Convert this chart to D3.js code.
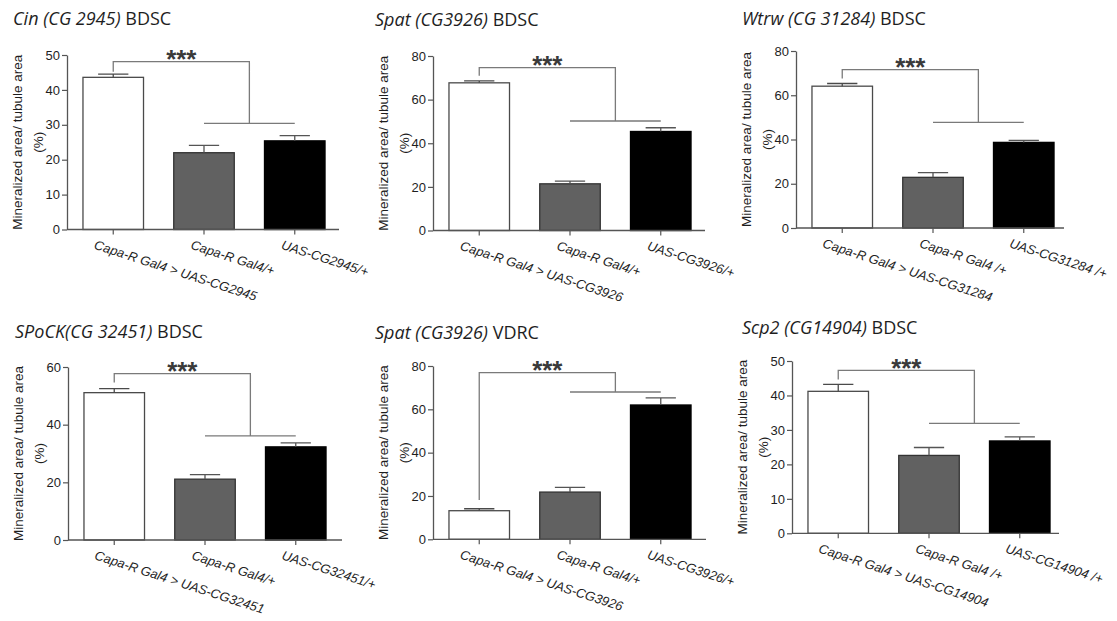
<!DOCTYPE html>
<html>
<head>
<meta charset="utf-8">
<script src="https://cdn.jsdelivr.net/npm/d3@7"></script>
<style>
  body { margin: 0; background: #fff; }
  svg { display: block; }
</style>
</head>
<body>
<svg id="fig" width="1117" height="621"></svg>
<script>
// Mineralized area / tubule area (%) after Capa-R Gal4 driven knock-down, mean ± SEM

const titleGene  = ["Cin (CG 2945)", "Spat (CG3926)", "Wtrw (CG 31284)", "SPoCK(CG 32451)", "Spat (CG3926)", "Scp2 (CG14904)"];
const titleStock = ["BDSC", "BDSC", "BDSC", "BDSC", "VDRC", "BDSC"];

const genotypes = [
  ["Capa-R Gal4 > UAS-CG2945",  "Capa-R Gal4/+",  "UAS-CG2945/+"],
  ["Capa-R Gal4 > UAS-CG3926",  "Capa-R Gal4/+",  "UAS-CG3926/+"],
  ["Capa-R Gal4 > UAS-CG31284", "Capa-R Gal4 /+", "UAS-CG31284 /+"],
  ["Capa-R Gal4 > UAS-CG32451", "Capa-R Gal4/+",  "UAS-CG32451/+"],
  ["Capa-R Gal4 > UAS-CG3926",  "Capa-R Gal4/+",  "UAS-CG3926/+"],
  ["Capa-R Gal4 > UAS-CG14904", "Capa-R Gal4 /+", "UAS-CG14904 /+"]
];

const means = [
  [43.6, 22.0, 25.4],
  [67.7, 21.4, 45.4],
  [64.1, 22.9, 38.7],
  [51.1, 21.1, 32.3],
  [13.2, 21.8, 62.0],
  [41.2, 22.6, 26.8]
];
const sems = [
  [0.9, 2.1, 1.5],
  [0.9, 1.2, 1.7],
  [1.2, 2.1, 0.9],
  [1.4, 1.6, 1.4],
  [0.9, 2.2, 3.3],
  [2.0, 2.3, 1.2]
];

const yMax  = [50, 80, 80, 60, 80, 50];
const yStep = [10, 20, 20, 20, 20, 10];

// significance brackets (data units): upper bar, end of the left drop, lower bar
const bracketTop  = [48.1, 74.7, 71.6, 57.7, 76.9, 47.3];
const bracketDrop = [45.2, 71.0, 67.6, 54.6, 18.1, 44.6];
const bracketLow  = [30.4, 50.2, 47.7, 36.1, 68.0, 31.9];
const sigLabel = "***";

const yLabel = "Mineralized area/ tubule area";
const yUnit = "(%)";

// panel frames on the page
const frames = [
  { x: 67,  top: 55,  base: 229.5, len: 272, tx: 13,  ty: 25 },
  { x: 433, top: 56,  base: 230.5, len: 272, tx: 375, ty: 26 },
  { x: 796, top: 51,  base: 228,   len: 268, tx: 742, ty: 25 },
  { x: 68,  top: 367, base: 540,   len: 274, tx: 15,  ty: 338 },
  { x: 433, top: 366, base: 539.3, len: 273, tx: 375, ty: 339 },
  { x: 792, top: 361, base: 533.3, len: 267, tx: 742, ty: 334 }
];

const barFill   = ["#ffffff", "#616161", "#000000"];
const barStroke = ["#4a4a4a", "#333333", "#000000"];
const axisColor = "#555555";
const bracketColor = "#7a7a7a";
const textColor = "#1e1e1e";
const sansFont = "'Liberation Sans', Arial, sans-serif";

const svg = d3.select("#fig");

frames.forEach((F, i) => {
  const g = svg.append("g");

  const y = d3.scaleLinear().domain([0, yMax[i]]).range([F.base, F.top]);
  const x = d3.scaleBand()
    .domain(genotypes[i])
    .range([F.x, F.x + 274])
    .paddingInner(0.333)
    .paddingOuter(0.176);
  const cx = d => x(d) + x.bandwidth() / 2;

  // title: gene name in italics, stock centre upright
  const title = g.append("text")
    .attr("x", F.tx).attr("y", F.ty)
    .style("font-family", "'Open Sans', sans-serif")
    .style("font-size", "18px")
    .style("fill", textColor);
  title.append("tspan").style("font-style", "italic").text(titleGene[i]);
  title.append("tspan").text(" " + titleStock[i]);

  // bars
  const rows = genotypes[i].map((k, j) => ({ k, m: means[i][j], s: sems[i][j], j }));
  g.selectAll("rect.bar").data(rows).enter().append("rect")
    .attr("class", "bar")
    .attr("x", d => x(d.k))
    .attr("width", x.bandwidth())
    .attr("y", d => y(d.m))
    .attr("height", d => y(0) - y(d.m))
    .attr("fill", d => barFill[d.j])
    .attr("stroke", d => barStroke[d.j])
    .attr("stroke-width", 1.3);

  // upper SEM whiskers
  const capW = x.bandwidth() / 2;
  g.selectAll("path.err").data(rows).enter().append("path")
    .attr("class", "err")
    .attr("d", d => `M${cx(d.k)},${y(d.m)}V${y(d.m + d.s)}M${cx(d.k) - capW / 2},${y(d.m + d.s)}H${cx(d.k) + capW / 2}`)
    .attr("fill", "none")
    .attr("stroke", (d) => d.j === 0 ? "#4a4a4a" : "#555")
    .attr("stroke-width", 1.3);

  // y axis
  const yAxis = d3.axisLeft(y)
    .tickValues(d3.range(0, yMax[i] + 1e-6, yStep[i]))
    .tickSize(5).tickSizeOuter(0).tickPadding(2);
  const ya = g.append("g").attr("transform", `translate(${F.x},0)`).call(yAxis);
  ya.select(".domain").attr("stroke", axisColor).attr("stroke-width", 1.3);
  ya.selectAll(".tick line").attr("stroke", axisColor).attr("stroke-width", 1.2);
  ya.selectAll(".tick text")
    .style("font-family", sansFont).style("font-size", "13px").style("fill", textColor);

  // x axis
  const xAxis = d3.axisBottom(x).tickSize(5).tickSizeOuter(0);
  const xa = g.append("g").attr("transform", `translate(0,${y(0)})`).call(xAxis);
  xa.select(".domain").remove();
  xa.append("line")
    .attr("x1", F.x).attr("x2", F.x + F.len)
    .attr("stroke", axisColor).attr("stroke-width", 1.3);
  xa.selectAll(".tick line").attr("stroke", axisColor).attr("stroke-width", 1.2);
  xa.selectAll(".tick text")
    .attr("x", 0).attr("y", 0).attr("dy", null)
    .style("text-anchor", "start")
    .style("font-family", sansFont).style("font-style", "italic")
    .style("font-size", "13px").style("fill", textColor)
    .attr("transform", function () {
      // longer labels start a little further left of their tick
      const len = this.getComputedTextLength();
      return `translate(${-8 - 0.07 * len},19) rotate(18)`;
    });

  // y axis title, two lines
  const midY = (F.top + F.base) / 2;
  g.append("text")
    .attr("transform", `translate(${F.x - 45},${midY}) rotate(-90)`)
    .attr("text-anchor", "middle")
    .style("font-family", sansFont).style("font-size", "13.5px").style("fill", textColor)
    .text(yLabel);
  g.append("text")
    .attr("transform", `translate(${F.x - 24},${midY}) rotate(-90)`)
    .attr("text-anchor", "middle")
    .style("font-family", sansFont).style("font-size", "13.5px").style("fill", textColor)
    .text(yUnit);

  // significance bracket: treated genotype versus both controls
  const c0 = cx(genotypes[i][0]);
  const c1 = cx(genotypes[i][1]);
  const c2 = cx(genotypes[i][2]);
  const mid = (c1 + c2) / 2;
  g.append("path")
    .attr("d", `M${c0},${y(bracketDrop[i])}V${y(bracketTop[i])}H${mid}V${y(bracketLow[i])}M${c1},${y(bracketLow[i])}H${c2}`)
    .attr("fill", "none")
    .attr("stroke", bracketColor)
    .attr("stroke-width", 1.3);
  g.append("text")
    .attr("x", (c0 + mid) / 2)
    .attr("y", y(bracketTop[i]) + 6.5)
    .attr("text-anchor", "middle")
    .style("font-family", sansFont).style("font-weight", "bold")
    .style("font-size", "26px").style("fill", "#3a3a3a")
    .text(sigLabel);
});
</script>
</body>
</html>
